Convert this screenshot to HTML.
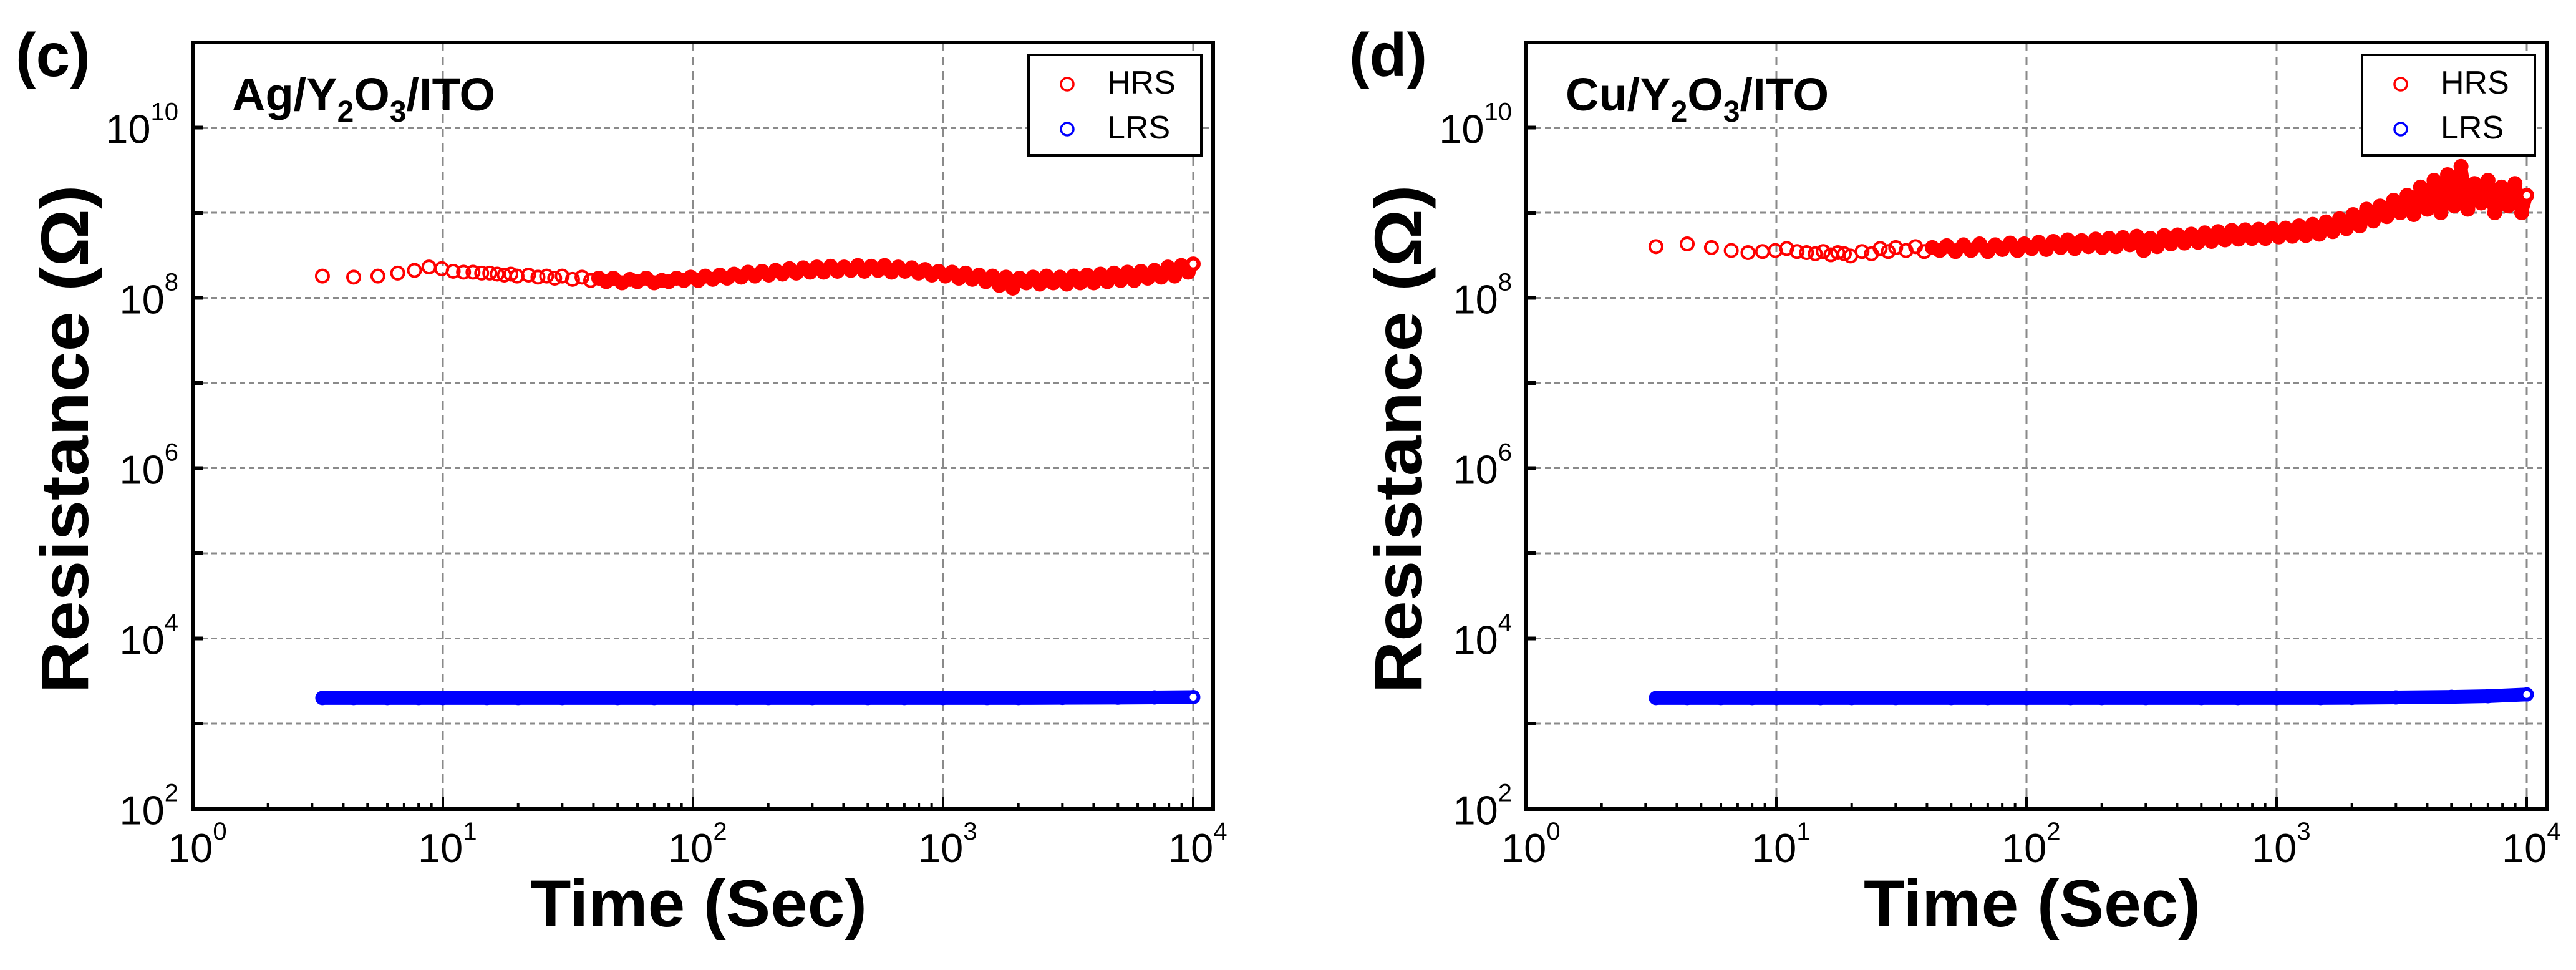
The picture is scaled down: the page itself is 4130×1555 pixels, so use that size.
<!DOCTYPE html>
<html><head><meta charset="utf-8"><style>
html,body{margin:0;padding:0;background:#fff;}
svg{display:block;}
</style></head><body>
<svg id="chart" width="4130" height="1555" viewBox="0 0 4130 1555" xmlns="http://www.w3.org/2000/svg" font-family="'Liberation Sans', Arial, sans-serif"></svg>
<script>
// ---- data ----
const hrsTimes = [3.3,4.4,5.5,6.6,7.7,8.8,9.9,
 11,12.1,13.2,14.3,15.4,16.5,17.6,18.7,19.8,
 22,24,26,28,30,33,36,39,42,45,48,
 52,56,60,65,70,75,80,86,92,98,
 105,112,120,128,137,146,156,166,177,189,201,
 214,228,243,259,276,294,313,333,355,378,402,
 428,456,485,516,549,584,622,662,704,749,797,
 848,902,960,1021,1086,1156,1230,1309,1393,1482,1577,
 1678,1786,1900,2022,2151,2289,2436,2592,2758,2935,3123,
 3323,3536,3762,4003,4260,4533,4823,5132,5461,5811,6183,
 6579,7000,7449,7926,8434,8974,9549,10000];
// HRS values in units of 1e8 ohm
const hrsAg = [1.8,1.75,1.8,1.95,2.1,2.3,2.2,
 2.05,2.0,2.0,1.95,1.95,1.9,1.85,1.9,1.8,
 1.85,1.75,1.8,1.7,1.8,1.65,1.75,1.6,1.7,1.55,1.7,
 1.5,1.65,1.55,1.7,1.5,1.6,1.55,1.7,1.6,1.75,
 1.6,1.8,1.65,1.85,1.7,1.9,1.75,2.0,1.8,2.05,1.85,
 2.1,1.9,2.2,1.95,2.25,2.0,2.3,2.0,2.35,2.05,2.3,
 2.1,2.4,2.05,2.35,2.1,2.4,2.0,2.3,2.05,2.25,1.95,
 2.15,1.85,2.05,1.8,2.0,1.7,1.95,1.65,1.85,1.55,1.8,
 1.4,1.75,1.3,1.7,1.5,1.75,1.45,1.8,1.5,1.75,1.45,
 1.8,1.5,1.85,1.5,1.9,1.55,1.95,1.6,2.0,1.6,2.05,
 1.7,2.1,1.75,2.3,1.8,2.4,2.0,2.5];
const hrsCu = [4.0,4.3,3.9,3.6,3.4,3.5,3.6,
 3.8,3.5,3.4,3.3,3.5,3.2,3.4,3.3,3.1,
 3.5,3.3,3.8,3.5,3.9,3.6,4.0,3.5,3.9,3.6,4.1,
 3.5,4.2,3.6,4.3,3.5,4.2,3.7,4.4,3.6,4.3,
 3.8,4.5,3.7,4.6,3.9,4.8,3.8,4.7,4.0,4.9,3.9,
 5.0,4.0,5.1,4.2,5.3,3.6,5.0,4.0,5.4,4.3,5.5,
 4.4,5.6,4.5,5.8,4.6,6.0,4.8,6.2,4.9,6.3,5.0,
 6.4,5.0,6.5,5.2,6.6,5.3,7.0,5.4,7.3,5.6,7.8,
 6.0,8.5,6.5,9.5,7.0,11,8.0,12,9.0,14,10,
 16,9.5,20,11,24,10,28,12,35,11,22,
 13,24,10,20,12,22,10,16];
const lrsTimes = [3.3,4.4,6,8,10,15,20,30,50,70,100,150,200,300,500,700,1000,1500,2000,3000,5000,7000,10000];
const lrsAg = [2000,2000,2000,2000,2000,2000,2000,2000,2000,2000,2000,2000,2000,2000,2000,2000,2000,2000,2000,2010,2020,2030,2050];
const lrsCu = [2000,2000,2000,2000,2000,2000,2000,2000,2000,2000,2000,2000,2000,2000,2000,2000,2000,2000,2010,2030,2060,2100,2200];
const xTickExps = [0,1,2,3,4];
const yGridExps = [3,4,5,6,7,8,9,10];
const yLabelExps = [2,4,6,8,10];
const hrsBandStart = 40; // seconds; beyond this the measured points overlap into a solid band

const NS = 'http://www.w3.org/2000/svg';
const svg = document.getElementById('chart');
function mk(tag, attrs, parent){const e=document.createElementNS(NS,tag);for(const k in attrs)e.setAttribute(k,attrs[k]);(parent||svg).appendChild(e);return e;}

function panel(ox, letter, metal, hrs, lrs, key){
  const L=309+ox, R=1945+ox, T=68, B=1297;
  const xs = t => L + Math.log10(t)*401;
  const ys = v => T + (11-Math.log10(v))*136.5;
  const g = mk('g',{});
  
  
  yGridExps.forEach(e=>{
    const l=mk('line',{x1:L,x2:R,y1:ys(Math.pow(10,e)),y2:ys(Math.pow(10,e)),stroke:'#8a8a8a','stroke-width':3,'stroke-dasharray':'9 6'},g);
    
    
  });
  xTickExps.slice(1).forEach(e=>{
    const l=mk('line',{x1:xs(Math.pow(10,e)),x2:xs(Math.pow(10,e)),y1:T,y2:B,stroke:'#8a8a8a','stroke-width':3,'stroke-dasharray':'14 9'},g);
    
    
  });
  for(let d=0; d<4; d++){
    for(let m=2;m<=9;m++){
      const x=xs(m*Math.pow(10,d));
      const t=mk('line',{x1:x,x2:x,y1:B,y2:B-10,stroke:'#000','stroke-width':4},g);
      
      
    }
  }
  xTickExps.forEach(e=>{
    const x=xs(Math.pow(10,e));
    const t=mk('line',{x1:x,x2:x,y1:B,y2:B-20,stroke:'#000','stroke-width':4},g);
    
    
    const tx=mk('text',{x:x-40,y:1382,'font-size':65,fill:'#000'},g);
    
    
    tx.innerHTML='10<tspan dy="-36" font-size="40">'+e+'</tspan>';
  });
  yGridExps.forEach(e=>{
    const y=ys(Math.pow(10,e));
    const t=mk('line',{x1:L,x2:L+16,y1:y,y2:y,stroke:'#000','stroke-width':6},g);
    
    
  });
  yLabelExps.forEach(e=>{
    const y=ys(Math.pow(10,e));
    const tx=mk('text',{x:L-23,y:y+25,'font-size':65,'text-anchor':'end',fill:'#000'},g);
    
    
    tx.innerHTML='10<tspan dy="-37" font-size="40">'+e+'</tspan>';
  });
  // LRS band
  const pts = lrsTimes.map((t,i)=>xs(t)+','+ys(lrs[i])).join(' ');
  const band=mk('polyline',{points:pts,fill:'none',stroke:'#0000ff','stroke-width':22,'stroke-linecap':'round','stroke-linejoin':'round'},g);
  
  
  lrsTimes.forEach((t,i)=>{
    const c=mk('circle',{cx:xs(t),cy:ys(lrs[i]),r:10,fill:'none',stroke:'#0000ff','stroke-width':3},g);
    
    
  });
  const last=lrsTimes.length-1;
  const lc=mk('circle',{cx:xs(lrsTimes[last]),cy:ys(lrs[last]),r:7,fill:'#fff',stroke:'#0000ff','stroke-width':3},g);
  
  
  // HRS dense band (overlapping measurements)
  const hp = hrsTimes.map((t,i)=>[t,hrs[i]]).filter(p=>p[0]>=hrsBandStart).map(p=>xs(p[0])+','+ys(p[1]*1e8)).join(' ');
  const hb=mk('polyline',{points:hp,fill:'none',stroke:'#ff0000','stroke-width':20,'stroke-linecap':'round','stroke-linejoin':'round'},g);
  
  
  hrsTimes.forEach((t,i)=>{
    const c=mk('circle',{cx:xs(t),cy:ys(hrs[i]*1e8),r:10,fill:'none',stroke:'#ff0000','stroke-width':4},g);
    
    
  });
  const hl=hrsTimes.length-1;
  const hc=mk('circle',{cx:xs(hrsTimes[hl]),cy:ys(hrs[hl]*1e8),r:7,fill:'#fff',stroke:'#ff0000','stroke-width':3},g);
  
  
  const f=mk('rect',{x:L,y:T,width:R-L,height:B-T,fill:'none',stroke:'#000','stroke-width':6},g);
  
  
  const lg=mk('g',{},g);
  
  
  mk('rect',{x:1649+ox,y:88,width:277,height:161,fill:'#fff',stroke:'#000','stroke-width':4},lg);
  const e1=mk('circle',{cx:1711+ox,cy:135,r:10,fill:'none',stroke:'#ff0000','stroke-width':3.5},lg);
  
  
  const t1=mk('text',{x:1775+ox,y:150,'font-size':52,fill:'#000'},lg);
  
  
  t1.textContent='HRS';
  const e2=mk('circle',{cx:1711+ox,cy:207,r:10,fill:'none',stroke:'#0000ff','stroke-width':3.5},lg);
  
  
  const t2=mk('text',{x:1775+ox,y:222,'font-size':52,fill:'#000'},lg);
  
  
  t2.textContent='LRS';
  const dl=mk('text',{x:372+ox,y:177,'font-size':74,'font-weight':'bold',fill:'#000'},g);
  
  
  dl.innerHTML=metal+'/Y<tspan font-size="48" dy="18">2</tspan><tspan dy="-18">O</tspan><tspan font-size="48" dy="18">3</tspan><tspan dy="-18">/ITO</tspan>';
  const pl=mk('text',{x:25+ox,y:122,'font-size':98,'font-weight':'bold',fill:'#000'},g);
  
  
  pl.textContent='('+letter+')';
  const xt=mk('text',{x:1120+ox,y:1485,'font-size':107,'font-weight':'bold','text-anchor':'middle',textLength:540,lengthAdjust:'spacingAndGlyphs',fill:'#000'},g);
  
  
  xt.textContent='Time (Sec)';
  const yt=mk('text',{x:0,y:0,'font-size':108,'font-weight':'bold','text-anchor':'middle',textLength:815,lengthAdjust:'spacingAndGlyphs',transform:'translate('+(141+ox)+',704) rotate(-90)',fill:'#000'},g);
  
  
  yt.textContent='Resistance (Ω)';
}
panel(0,'c','Ag',hrsAg,lrsAg,'ag');
panel(2138,'d','Cu',hrsCu,lrsCu,'cu');
</script>
</body></html>
